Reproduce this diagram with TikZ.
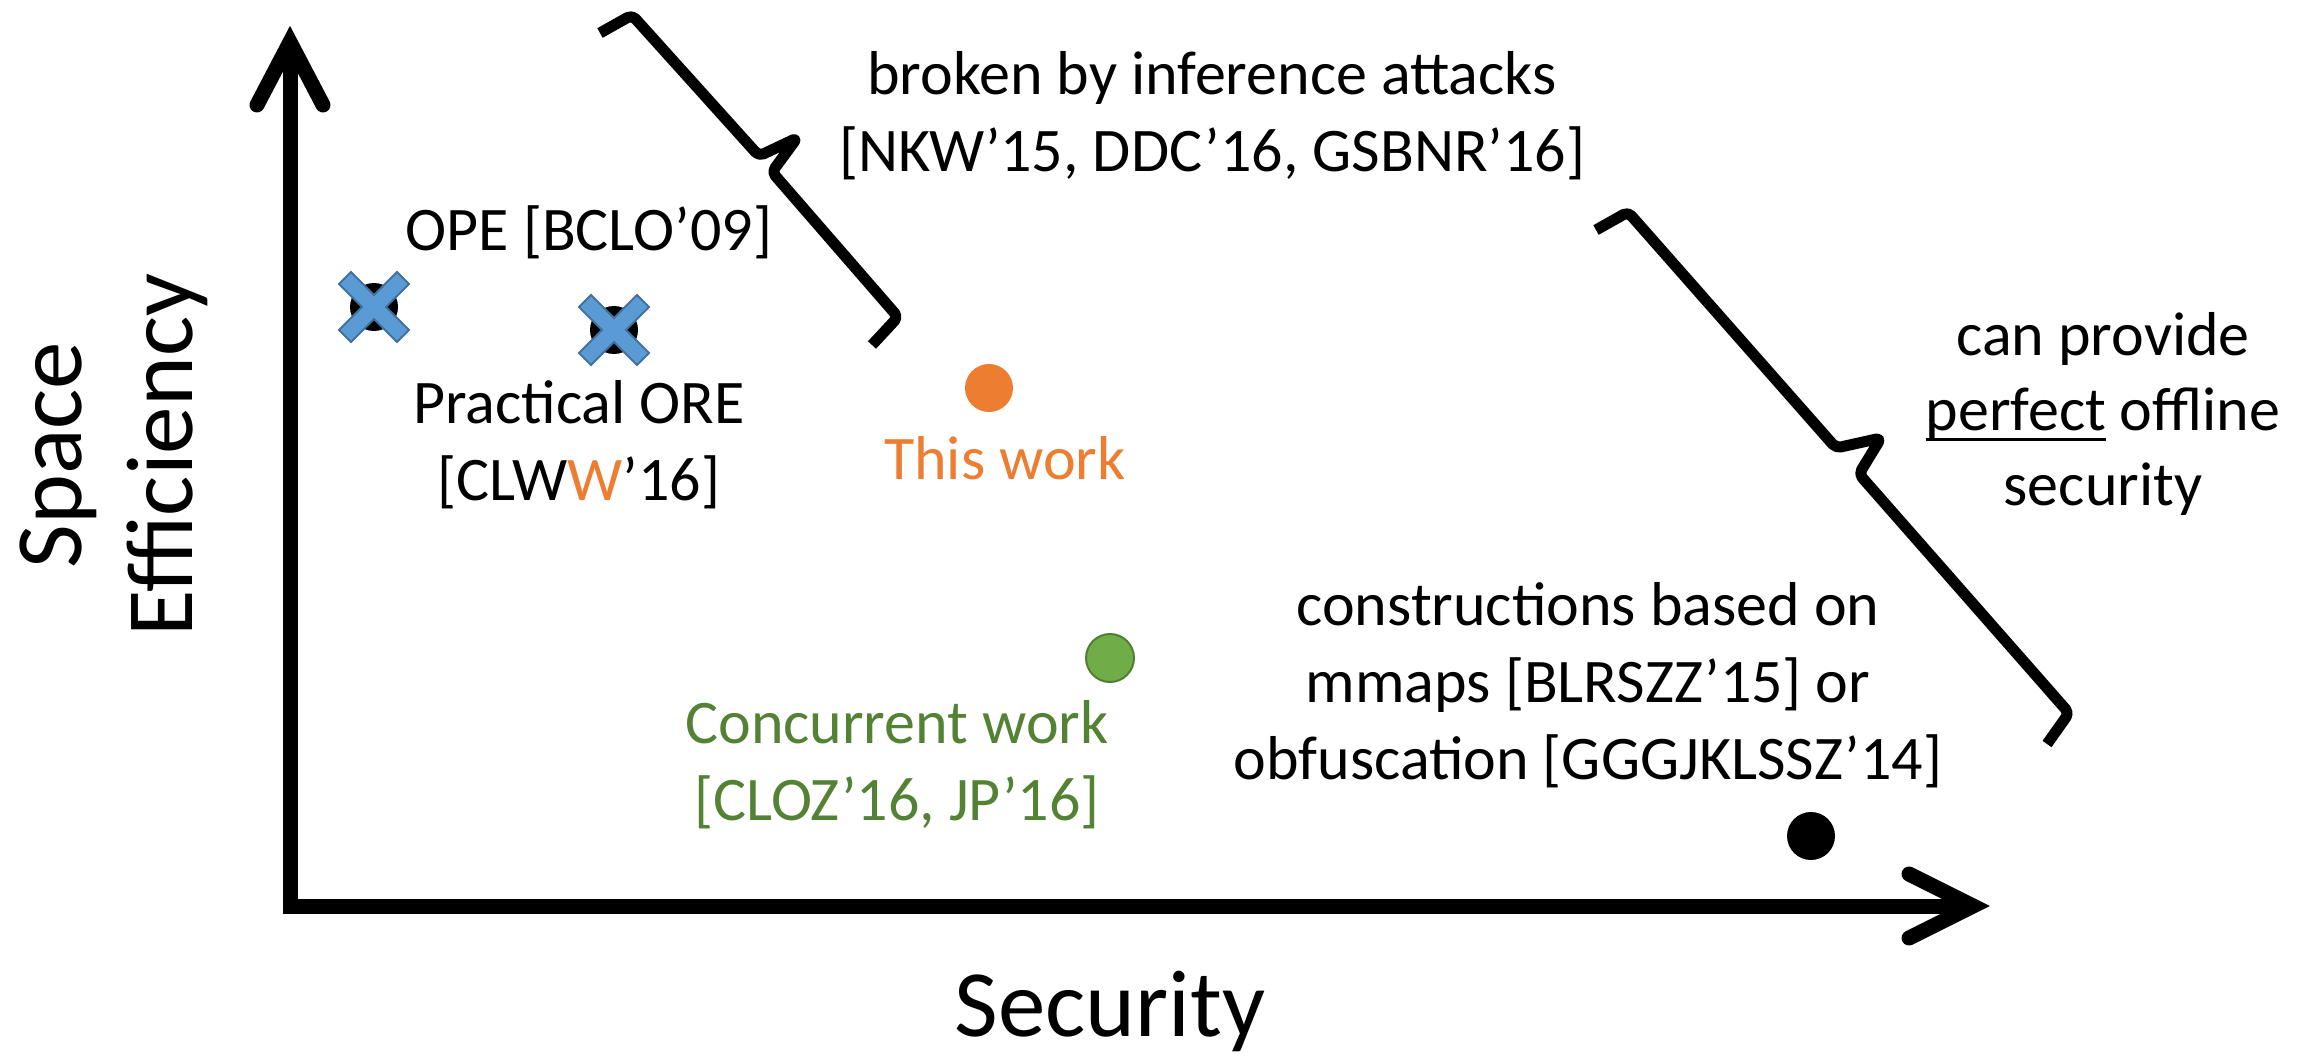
\documentclass[tikz,border=0pt]{standalone}
\usepackage{fontspec}
\setmainfont{Carlito}
\definecolor{xblue}{HTML}{5B9BD5}
\definecolor{xblueb}{HTML}{41719C}
\definecolor{orng}{HTML}{ED7D31}
\definecolor{grn}{HTML}{70AD47}
\definecolor{grnb}{HTML}{507E32}
\definecolor{grntxt}{HTML}{548235}
\newsavebox\ulbox
\newcommand\myul[1]{\sbox\ulbox{#1}\rlap{\rule[-11pt]{\wd\ulbox}{3pt}}\usebox\ulbox}
\begin{document}
\begin{tikzpicture}[x=1pt,y=-1pt,
  lbl/.style={inner sep=0pt, anchor=base, font=\fontsize{62}{76}\selectfont},
  axlbl/.style={inner sep=0pt, anchor=base, font=\fontsize{95}{114}\selectfont},
  axisline/.style={line width=15pt},
  axishead/.style={line width=15pt, line cap=round, line join=miter},
  bracepath/.style={line width=11pt, line join=round, rounded corners=5pt},
  dot/.style={circle, minimum size=48pt, inner sep=0pt},
  xmark/.pic={\filldraw[fill=xblue, draw=xblueb, line width=2pt]
    (0,12) -- (23,35) -- (35,23) -- (12,0) -- (35,-23) -- (23,-35) -- (0,-12)
    -- (-23,-35) -- (-35,-23) -- (-12,0) -- (-35,23) -- (-23,35) -- cycle;},
]
\useasboundingbox (0,0) rectangle (2315,1059);
% axes
\coordinate (ybot) at (290,913.5);
\coordinate (ytip) at (290,42);
\coordinate (xleft) at (282.5,906);
\coordinate (xtip) at (1973,906);
\coordinate (ybarbL) at (257,105);
\coordinate (ybarbR) at (323,105);
\coordinate (xbarbU) at (1909,874);
\coordinate (xbarbD) at (1909,938);
\draw[axisline, shorten >=10pt] (ybot) -- (ytip);
\draw[axisline, shorten >=10pt] (xleft) -- (xtip);
\draw[axishead] (ybarbL) -- (ytip) -- (ybarbR);
\draw[axishead] (xbarbU) -- (xtip) -- (xbarbD);
% braces
\draw[bracepath] (600,33) -- (632,15) -- (759,156) -- (797,138) -- (772,172) -- (898,317) -- (872,345);
\draw[bracepath] (1596,230) -- (1628,212) -- (1836,448) -- (1881,438) -- (1859,474) -- (2069,713) -- (2047,744);
% points
\node[dot, fill=black] (ope) at (374,307) {};
\pic at (ope) {xmark};
\node[dot, fill=black] (pore) at (614,330) {};
\pic at (pore) {xmark};
\node[dot, fill=orng] (tw) at (989,388) {};
\node[dot, fill=grn, draw=grnb, line width=2pt] (cw) at (1110,658) {};
\node[dot, fill=black] (ct) at (1811,836) {};
% labels
\node[lbl] (brk1) at (1212,95) {broken by inference attacks};
\node[lbl] (brk2) at (1212,172) {[NKW’15, DDC’16, GSBNR’16]};
\node[lbl] (opel) at (589,251) {OPE [BCLO’09]};
\node[lbl] (pore1) at (579,423) {Practical ORE};
\node[lbl] (pore2) at (579,500) {[CLW{\color{orng}W}’16]};
\node[lbl, text=orng] (twl) at (1005,479) {This work};
\node[lbl, text=grntxt] (cw1) at (897,743) {Concurrent work};
\node[lbl, text=grntxt] (cw2) at (897,820) {[CLOZ’16, JP’16]};
\node[lbl] (pp1) at (2103,355) {can provide};
\node[lbl] (pp2) at (2103,430) {\myul{perfect} offline};
\node[lbl] (pp3) at (2103,505) {security};
\node[lbl] (cb1) at (1588,625) {constructions based on};
\node[lbl] (cb2) at (1588,702) {mmaps [BLRSZZ’15] or};
\node[lbl] (cb3) at (1588,779) {obfuscation [GGGJKLSSZ’14]};
\node[axlbl] (secl) at (1110,1036) {Security};
\node[axlbl, rotate=90] (sp1) at (81,455) {Space};
\node[axlbl, rotate=90] (sp2) at (192,455) {Efficiency};
\end{tikzpicture}
\end{document}
